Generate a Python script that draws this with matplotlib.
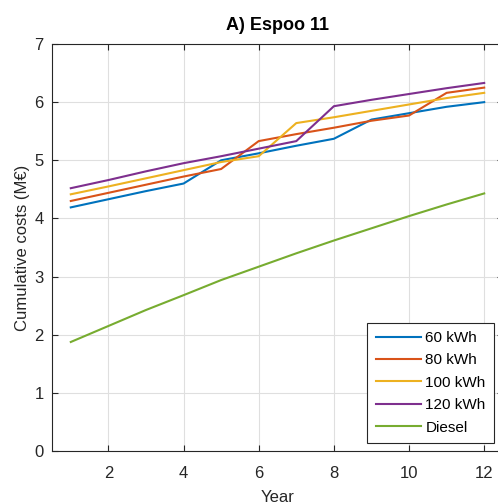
import matplotlib
matplotlib.use("Agg")
import matplotlib.pyplot as plt

years = [1, 2, 3, 4, 5, 6, 7, 8, 9, 10, 11, 12]
kwh60 = [4.19, 4.33, 4.47, 4.60, 5.00, 5.12, 5.25, 5.37, 5.70, 5.81, 5.92, 6.00]
kwh80 = [4.30, 4.44, 4.58, 4.72, 4.85, 5.33, 5.45, 5.56, 5.68, 5.77, 6.16, 6.25]
kwh100 = [4.415, 4.55, 4.69, 4.83, 4.97, 5.07, 5.64, 5.74, 5.85, 5.96, 6.07, 6.16]
kwh120 = [4.52, 4.66, 4.81, 4.95, 5.07, 5.20, 5.33, 5.93, 6.04, 6.14, 6.24, 6.33]
diesel = [1.875, 2.15, 2.425, 2.68, 2.94, 3.17, 3.40, 3.62, 3.83, 4.04, 4.24, 4.43]
labels = ["60 kWh", "80 kWh", "100 kWh", "120 kWh", "Diesel"]
colors = ["#0072BD", "#D95319", "#EDB120", "#7E2F8E", "#77AC30"]
xticks = [2, 4, 6, 8, 10, 12]
yticks = [0, 1, 2, 3, 4, 5, 6, 7]

plt.rcParams['font.family'] = ['Liberation Sans', 'DejaVu Sans']

W, H = 498, 504
fig = plt.figure(figsize=(W / 100, H / 100), dpi=100)
left, right, top, bottom = 52, 503, 44, 451
ax = fig.add_axes([left / W, 1 - bottom / H, (right - left) / W, (bottom - top) / H])

for s, lab, c in zip([kwh60, kwh80, kwh100, kwh120, diesel], labels, colors):
    ax.plot(years, s, color=c, lw=1.5, label=lab)

ax.set_xlim(0.5, 12.5)
ax.set_ylim(0, 7)
ax.set_xticks(xticks)
ax.set_yticks(yticks)
ax.grid(True, color="#DFDFDF", lw=0.8)
ax.set_axisbelow(True)
dark = "#262626"
for sp in ax.spines.values():
    sp.set_color(dark)
    sp.set_linewidth(0.8)
ax.tick_params(direction="in", length=4, width=0.8, colors=dark, labelsize=12,
               top=True, right=True)
ax.tick_params(axis="y", pad=6)
ax.tick_params(axis="x", pad=11)
ax.set_xlabel("Year", fontsize=12, color=dark, labelpad=6)
ax.set_ylabel("Cumulative costs (M€)", fontsize=12, color=dark, labelpad=3)
ax.set_title("A) Espoo 11", fontsize=13, fontweight="bold", pad=10)

leg = ax.legend(loc="lower right", bbox_to_anchor=((494 - left) / (right - left), (bottom - 443) / (bottom - top)),
                fontsize=11, frameon=True, fancybox=False, handlelength=2.95,
                borderpad=0.55, labelspacing=0.55, handletextpad=0.3, borderaxespad=0)
leg.get_frame().set_edgecolor(dark)
leg.get_frame().set_linewidth(0.8)
leg.get_frame().set_alpha(1)

fig.savefig("out.png", dpi=100)
